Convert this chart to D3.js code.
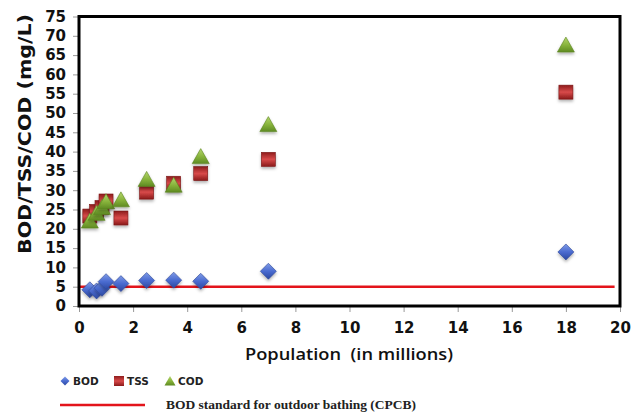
<!DOCTYPE html>
<html>
<head>
<meta charset="utf-8">
<script src="https://cdn.jsdelivr.net/npm/d3@7"></script>
<style>
  body { margin: 0; background: #fff; }
  svg { display: block; }
  text { white-space: pre; }
</style>
</head>
<body>
<div id="chart"></div>
<script>
// population of each town (millions)
var population = [0.4, 0.65, 0.85, 1.0, 1.55, 2.5, 3.5, 4.5, 7, 18];
var bodValues = [4.2, 3.9, 4.6, 6.3, 5.8, 6.6, 6.7, 6.4, 9, 14];
var tssValues = [23.3, 24.5, 25.5, 27.2, 22.8, 29.5, 31.8, 34.3, 38, 55.4];
var codValues = [22, 24, 25.5, 27, 27.5, 32.8, 31.3, 38.7, 47, 67.6];
var bodStandard = 5;
var xTicks = [0, 2, 4, 6, 8, 10, 12, 14, 16, 18, 20];
var yTicks = [0, 5, 10, 15, 20, 25, 30, 35, 40, 45, 50, 55, 60, 65, 70, 75];

var width = 643;
var height = 420;

var svg = d3
  .select("#chart")
  .append("svg")
  .attr("width", width)
  .attr("height", height);

var xScale = d3.scaleLinear().domain([0, 20]).range([79, 620]);
var yScale = d3.scaleLinear().domain([0, 75]).range([306, 16.5]);

var defs = svg.append("defs");

function grad(id, stops) {
  var g = defs
    .append("linearGradient")
    .attr("id", id)
    .attr("x1", 0).attr("y1", 0)
    .attr("x2", 0).attr("y2", 1);
  stops.forEach(function(s) {
    g.append("stop").attr("offset", s[0]).attr("stop-color", s[1]);
  });
}
grad("gBod", [[0, "#7f9be6"], [0.5, "#4a6bd0"], [1, "#2c48a0"]]);
grad("gTss", [[0, "#8e1c1c"], [0.5, "#d84a4a"], [1, "#8a1a1a"]]);
grad("gCod", [[0, "#b5d66c"], [0.55, "#86b23a"], [1, "#5e8a22"]]);

var shadow = defs.append("filter").attr("id", "shadow")
  .attr("x", "-50%").attr("y", "-50%").attr("width", "200%").attr("height", "200%");
shadow.append("feDropShadow")
  .attr("dx", 0).attr("dy", 2).attr("stdDeviation", 1.5)
  .attr("flood-color", "#000").attr("flood-opacity", 0.3);

// y ticks
var yAxis = d3.axisLeft(yScale).tickValues(yTicks).tickSize(6).tickPadding(7);
var gy = svg.append("g").attr("transform", "translate(79,0)").call(yAxis);
gy.select(".domain").remove();
gy.selectAll(".tick line").attr("stroke", "#999");
gy.selectAll(".tick text")
  .attr("font-family", "DejaVu Sans")
  .attr("font-weight", "bold")
  .attr("font-size", 15)
  .attr("fill", "#111");

// x ticks
var xAxis = d3.axisBottom(xScale).tickValues(xTicks).tickSize(6).tickPadding(10);
var gx = svg.append("g").attr("transform", "translate(0,306)").call(xAxis);
gx.select(".domain").remove();
gx.selectAll(".tick line").attr("stroke", "#999");
gx.selectAll(".tick text")
  .attr("font-family", "DejaVu Sans")
  .attr("font-weight", "bold")
  .attr("font-size", 15)
  .attr("fill", "#111");

// BOD standard line
svg.append("line")
  .attr("x1", xScale(0))
  .attr("x2", xScale(19.8))
  .attr("y1", yScale(bodStandard))
  .attr("y2", yScale(bodStandard))
  .attr("stroke", "#e3141b")
  .attr("stroke-width", 2.5);

// markers
var bod = population.map(function(p, i) { return { x: p, y: bodValues[i] }; });
var tss = population.map(function(p, i) { return { x: p, y: tssValues[i] }; });
var cod = population.map(function(p, i) { return { x: p, y: codValues[i] }; });

svg.selectAll(".bod")
  .data(bod)
  .enter()
  .append("path")
  .attr("class", "bod")
  .attr("d", "M0,-8L8,0L0,8L-8,0Z")
  .attr("transform", function(d) {
    return "translate(" + xScale(d.x) + "," + yScale(d.y) + ")";
  })
  .attr("fill", "url(#gBod)")
  .attr("stroke", "#2b4596")
  .attr("stroke-width", 0.6)
  .attr("filter", "url(#shadow)");

svg.selectAll(".tss")
  .data(tss)
  .enter()
  .append("rect")
  .attr("class", "tss")
  .attr("x", function(d) { return xScale(d.x) - 7; })
  .attr("y", function(d) { return yScale(d.y) - 7; })
  .attr("width", 14)
  .attr("height", 14)
  .attr("fill", "url(#gTss)")
  .attr("stroke", "#7a1414")
  .attr("stroke-width", 0.6)
  .attr("filter", "url(#shadow)");

svg.selectAll(".cod")
  .data(cod)
  .enter()
  .append("path")
  .attr("class", "cod")
  .attr("d", "M0,-8L8.5,7L-8.5,7Z")
  .attr("transform", function(d) {
    return "translate(" + xScale(d.x) + "," + yScale(d.y) + ")";
  })
  .attr("fill", "url(#gCod)")
  .attr("stroke", "#5a8420")
  .attr("stroke-width", 0.6)
  .attr("filter", "url(#shadow)");

// frame
svg.append("rect")
  .attr("x", 79)
  .attr("y", 16.5)
  .attr("width", 541)
  .attr("height", 289.5)
  .attr("fill", "none")
  .attr("stroke", "#000")
  .attr("stroke-width", 3);

// axis titles
svg.append("text")
  .attr("transform", "translate(31,134) rotate(-90)")
  .attr("text-anchor", "middle")
  .attr("font-family", "DejaVu Sans")
  .attr("font-weight", "bold")
  .attr("font-size", 17)
  .attr("fill", "#111")
  .attr("textLength", 240)
  .attr("lengthAdjust", "spacingAndGlyphs")
  .text("BOD/TSS/COD (mg/L)");

svg.append("text")
  .attr("x", 349)
  .attr("y", 360)
  .attr("text-anchor", "middle")
  .attr("font-family", "Open Sans")
  .attr("font-weight", 600)
  .attr("font-size", 17)
  .attr("fill", "#111")
  .attr("textLength", 208)
  .attr("lengthAdjust", "spacingAndGlyphs")
  .text("Population  (in millions)");

// legend
var legend = svg.append("g").attr("font-family", "DejaVu Sans").attr("font-weight", "bold")
  .attr("font-size", 10.5).attr("fill", "#222");
legend.append("path").attr("d", "M0,-4.5L4.5,0L0,4.5L-4.5,0Z")
  .attr("transform", "translate(65,381)").attr("fill", "url(#gBod)");
legend.append("text").attr("x", 73).attr("y", 385).text("BOD");
legend.append("rect").attr("x", 114).attr("y", 376).attr("width", 10).attr("height", 10)
  .attr("fill", "url(#gTss)");
legend.append("text").attr("x", 127).attr("y", 385).text("TSS");
legend.append("path").attr("d", "M0,-5L5.5,4.5L-5.5,4.5Z")
  .attr("transform", "translate(170,381)").attr("fill", "url(#gCod)");
legend.append("text").attr("x", 178).attr("y", 385).text("COD");

svg.append("line")
  .attr("x1", 60).attr("x2", 145)
  .attr("y1", 405).attr("y2", 405)
  .attr("stroke", "#e3141b")
  .attr("stroke-width", 2.5);
svg.append("text")
  .attr("x", 166)
  .attr("y", 409)
  .attr("font-family", "Liberation Serif")
  .attr("font-weight", "bold")
  .attr("font-size", 12.5)
  .attr("fill", "#222")
  .attr("textLength", 250)
  .attr("lengthAdjust", "spacingAndGlyphs")
  .text("BOD standard for outdoor bathing (CPCB)");
</script>
</body>
</html>
